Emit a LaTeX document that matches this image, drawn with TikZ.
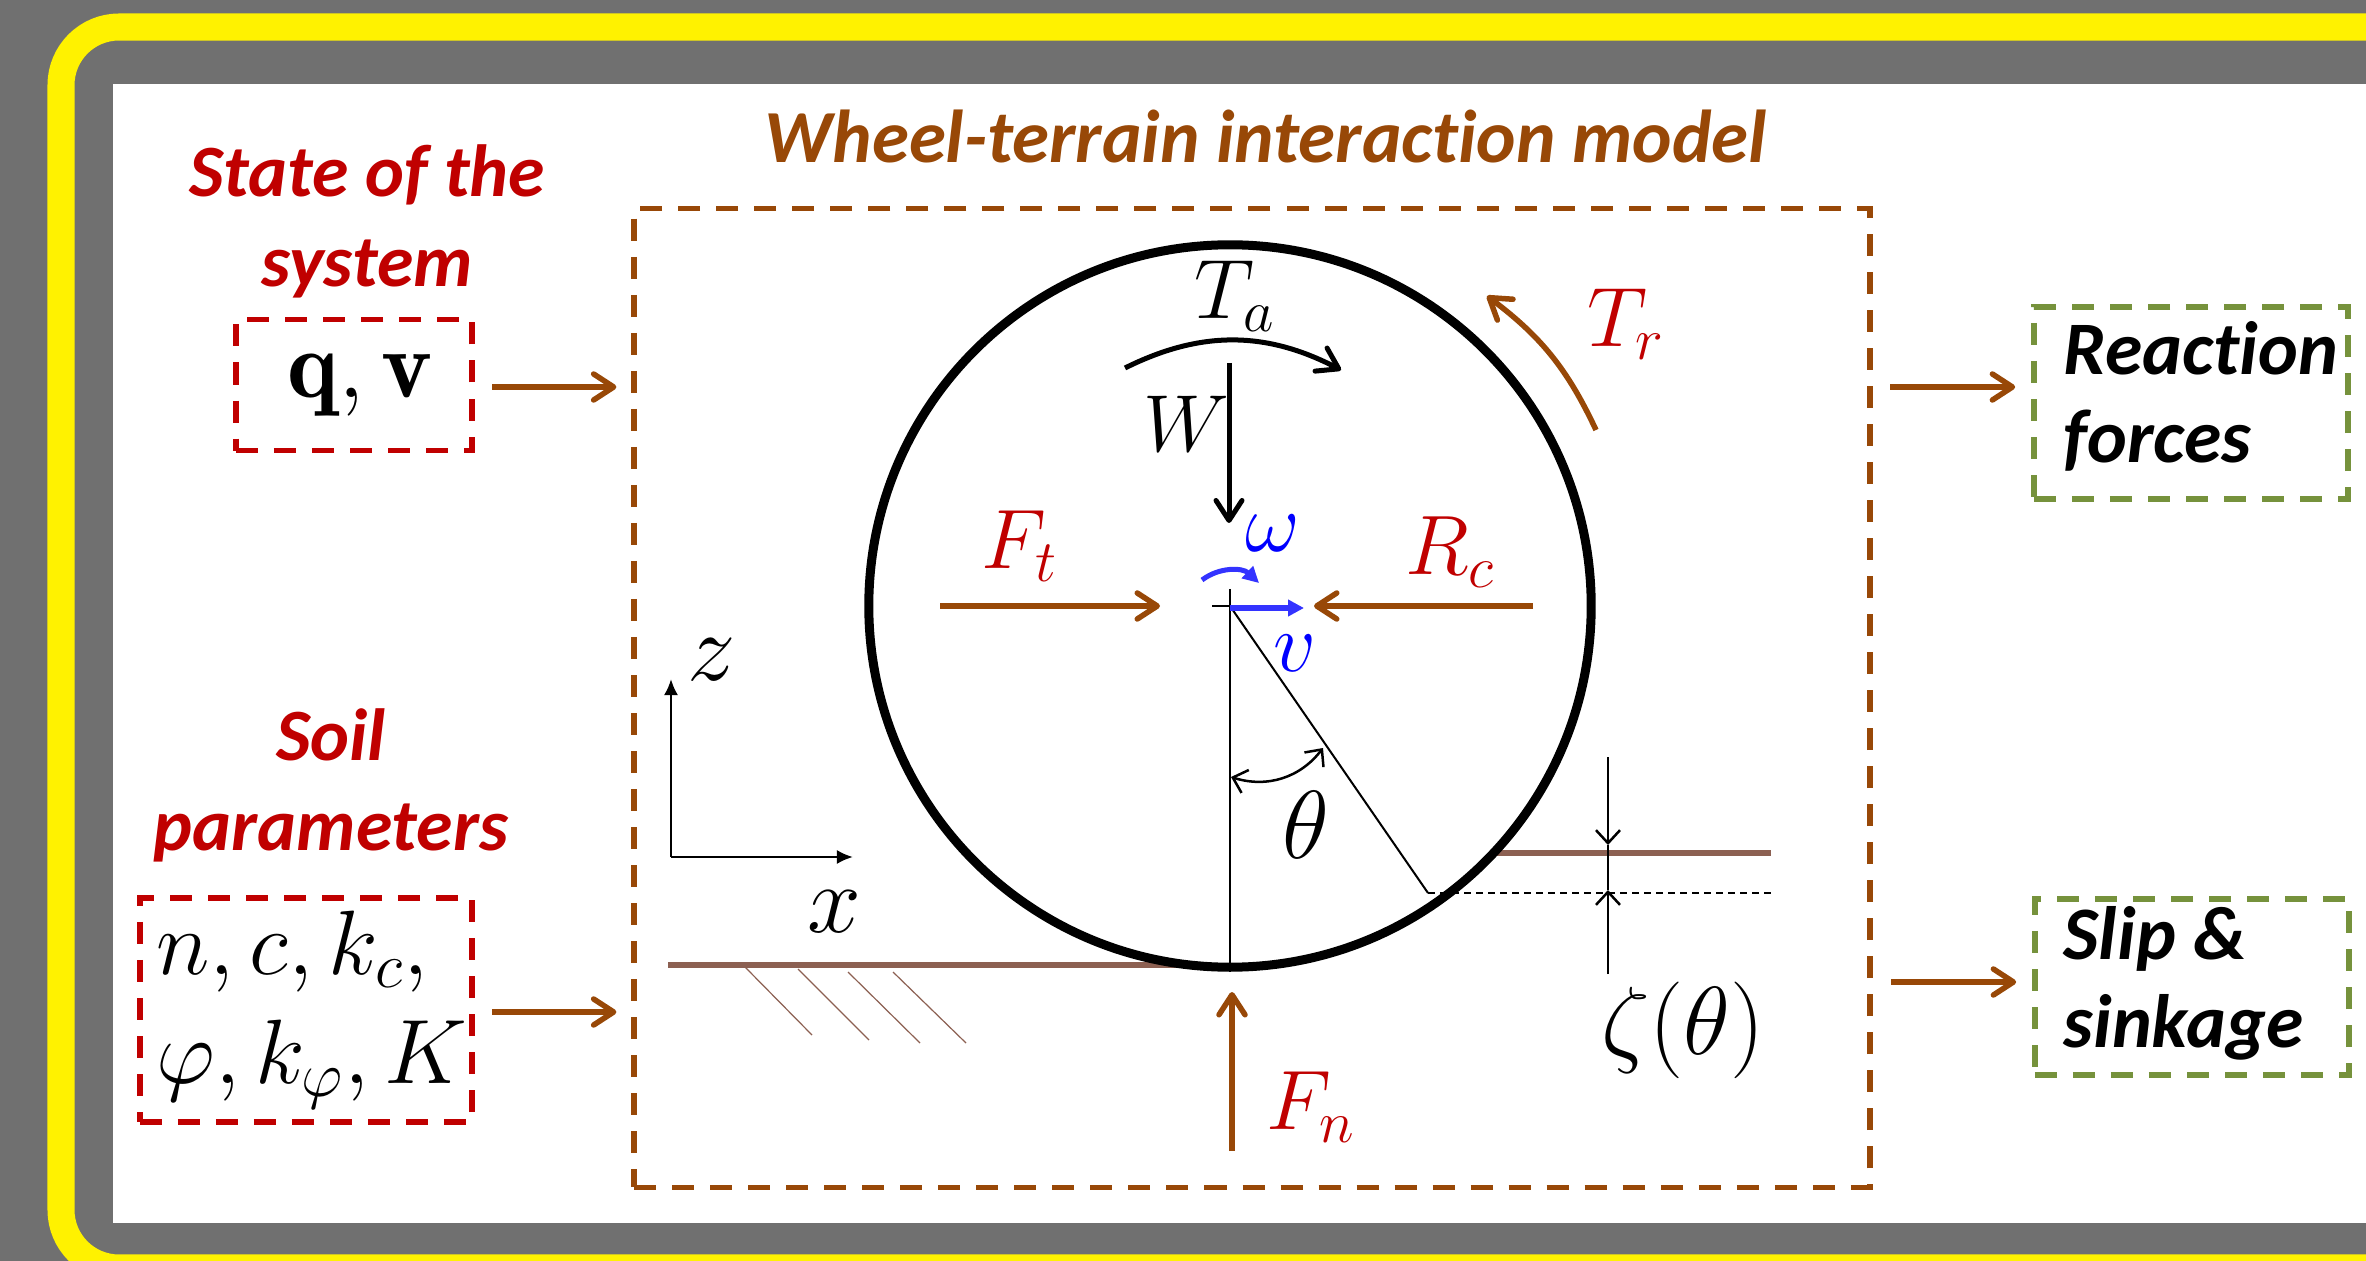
\documentclass[tikz,border=0pt]{standalone}
\usepackage{fix-cm}
\usepackage{amsmath}
\usepackage{amssymb}
\usepackage{fontspec}
\usepackage{tikz}
\usetikzlibrary{arrows.meta,calc}
\newfontfamily\carlito[Ligatures=NoCommon]{Carlito}
\definecolor{framegray}{HTML}{707070}
\definecolor{redtext}{HTML}{C00000}
\definecolor{brownline}{HTML}{984807}
\definecolor{greenline}{HTML}{76923C}
\definecolor{soil}{HTML}{8C6052}
\definecolor{bluearrow}{HTML}{3333FF}

\begin{document}
\begin{tikzpicture}[
        x=0.01cm, y=-0.01cm,
        dashbox/.style={
            draw,
            line width=0.055cm,
            dash pattern=on 0.22cm off 0.16cm,
            inner sep=0pt
        },
        inbox/.style={
            dashbox,
            draw=redtext,
            align=left
        },
        outbox/.style={
            dashbox,
            draw=greenline
        },
        outtext/.style={
            anchor=west,
            inner sep=0pt,
            align=left,
            font=\fontsize{21.5}{25}\selectfont\carlito\bfseries\itshape
        },
        heading/.style={
            text=redtext,
            align=center,
            inner sep=0pt,
            font=\fontsize{21}{25.6}\selectfont\carlito\bfseries\itshape
        },
        mathlabel/.style={
            inner sep=0pt,
            font=\fontsize{24}{28}\selectfont
        },
        biglabel/.style={
            inner sep=0pt,
            font=\fontsize{27.5}{32}\selectfont
        },
        forcelabel/.style={mathlabel, text=redtext},
        speedlabel/.style={mathlabel, text=blue},
        arrow/.style={
            -{Straight Barb[length=0.2cm, width=0.26cm, round]},
            line width=0.055cm,
            draw=brownline
        },
        blackarrow/.style={
            -{Straight Barb[length=0.2cm, width=0.26cm, round]},
            line width=0.05cm
        },
        thinarrow/.style={
            -{Straight Barb[length=0.13cm, width=0.24cm]},
            line width=0.025cm
        },
        axis/.style={-{Latex[length=0.16cm, width=0.14cm]}, line width=0.025cm},
        ground/.style={draw=soil, line width=0.06cm},
        hatch/.style={draw=soil, line width=0.012cm},
        bluetip/.style={
            -{Triangle[length=0.16cm, width=0.16cm]},
            draw=bluearrow
        }
    ]

    % background and frame
    \clip (0,0) rectangle (2366,1261);
    \fill[framegray] (0,0) rectangle (2366,1261);
    \draw[yellow, line width=0.27cm, rounded corners=0.58cm] (61,27) rectangle (2600,1268);
    \fill[white] (113,84) rectangle (2400,1223);

    % inputs and outputs
    \node[heading] (statelabel) at (367,221) {State of the\\system};
    \node[inbox, font=\fontsize{27.5}{32}\selectfont, minimum width=2.36cm, minimum height=1.31cm] (statebox) at (354,385) {\hspace*{0.12cm}$\mathbf{q},\mathbf{v}$};
    \node[heading] (soillabel) at (331,785) {Soil\\parameters};
    \node[inbox, font=\fontsize{26}{31}\selectfont, minimum width=3.32cm, minimum height=2.24cm] (soilbox) at (306,1010) {\hspace*{0.12cm}$n,c,k_c,$\\\hspace*{0.12cm}$\varphi,k_\varphi,K$};
    \node[outbox, minimum width=3.14cm, minimum height=1.92cm] (reaction) at (2191,403) {};
    \node[outtext] (reactiontext) at (2063,396) {Reaction\\forces};
    \node[outbox, minimum width=3.14cm, minimum height=1.76cm] (slip) at (2192,987) {};
    \node[outtext] (sliptext) at (2063,983) {Slip \&\\sinkage};

    % model box
    \node[heading, text=brownline, font=\fontsize{21.3}{26}\selectfont\carlito\bfseries\itshape] (title) at (1266,137) {Wheel-terrain interaction model};
    \node[dashbox, draw=brownline, minimum width=12.35cm, minimum height=9.78cm] (model) at (1252,698) {};

    % ground
    \coordinate (groundl) at (668,965);
    \coordinate (groundm) at (1190,965);
    \coordinate (groundr) at (1494,853);
    \coordinate (groundend) at (1771,853);
    \coordinate (sink) at (1428,893);
    \coordinate (sinkend) at (1771,893);
    \draw[ground] (groundl) -- (groundm);
    \draw[ground] (groundr) -- (groundend);
    \draw[hatch] (745,967) -- (812,1035);
    \draw[hatch] (798,969) -- (869,1040);
    \draw[hatch] (848,972) -- (920,1043);
    \draw[hatch] (893,972) -- (966,1043);

    % wheel
    \coordinate (hub) at (1230,606);
    \node[draw, circle, line width=0.09cm, minimum size=7.22cm, inner sep=0pt] (wheel) at (hub) {};
    \draw[line width=0.02cm] (1212,606) -- (hub);
    \draw[line width=0.02cm] (1230,589) -- (wheel.south);
    \draw[line width=0.02cm] (hub) -- (sink);
    \draw[line width=0.018cm, dash pattern=on 0.07cm off 0.05cm] (sink) -- (sinkend);

    % axes
    \coordinate (origin) at (671,857);
    \coordinate (ztip) at (671,679);
    \coordinate (xtip) at (853,857);
    \draw[axis] (origin) -- (ztip);
    \draw[axis] (origin) -- (xtip);
    \node[biglabel] (zlabel) at (712,660) {$z$};
    \node[biglabel] (xlabel) at (834,912) {$x$};

    % torques
    \coordinate (tastart) at (1125,368);
    \coordinate (taend) at (1341,370);
    \coordinate (trstart) at (1596,430);
    \coordinate (trend) at (1487,296);
    \draw[blackarrow] (tastart) to[bend left=27] (taend);
    \draw[arrow] (trstart) to[bend right=14] (trend);
    \node[mathlabel] (talabel) at (1235,296) {$T_a$};
    \node[forcelabel] (trlabel) at (1626,324) {$T_r$};

    % forces
    \coordinate (wstart) at (1229,363);
    \coordinate (wend) at (1229,523);
    \coordinate (ftstart) at (940,606);
    \coordinate (ftend) at (1160,606);
    \coordinate (rcstart) at (1533,606);
    \coordinate (rcend) at (1314,606);
    \coordinate (fnstart) at (1232,1151);
    \coordinate (fnend) at (1232,992);
    \draw[blackarrow] (wstart) -- (wend);
    \draw[arrow] (ftstart) -- (ftend);
    \draw[arrow] (rcstart) -- (rcend);
    \draw[arrow] (fnstart) -- (fnend);
    \node[mathlabel, font=\fontsize{23}{27}\selectfont] (wlabel) at (1186,424) {$W$};
    \node[forcelabel] (ftlabel) at (1020,546) {$F_t$};
    \node[forcelabel] (rclabel) at (1450,552) {$R_c$};
    \node[forcelabel] (fnlabel) at (1311,1107) {$F_n$};

    % speeds
    \coordinate (omstart) at (1202,580);
    \coordinate (omend) at (1259,583);
    \coordinate (vstart) at (1230,608);
    \coordinate (vend) at (1304,608);
    \draw[bluetip, line width=0.05cm] (omstart) to[bend left=40] (omend);
    \draw[bluetip, line width=0.06cm] (vstart) -- (vend);
    \node[speedlabel] (omlabel) at (1273,533) {$\omega$};
    \node[speedlabel] (vlabel) at (1295,653) {$v$};

    % angle and sinkage
    \coordinate (anga) at (1231,777);
    \coordinate (angb) at (1323,748);
    \coordinate (zetaa) at (1608,757);
    \coordinate (zetab) at (1608,845);
    \coordinate (zetac) at (1608,974);
    \coordinate (zetad) at (1608,890);
    \draw[thinarrow, {Straight Barb[length=0.13cm, width=0.24cm]}-{Straight Barb[length=0.13cm, width=0.24cm]}] (anga) to[bend right=35] (angb);
    \draw[thinarrow] (zetaa) -- (zetab);
    \draw[thinarrow] (zetac) -- (zetad);
    \draw[line width=0.012cm] (zetab) -- (zetad);
    \node[biglabel] (thetalabel) at (1306,825) {$\theta$};
    \node[biglabel] (zetalabel) at (1683,1030) {$\zeta(\theta)$};

    % connectors
    \coordinate (statein) at (492,387);
    \coordinate (soilin) at (492,1012);
    \coordinate (reactout) at (1890,387);
    \coordinate (slipout) at (1891,982);
    \draw[arrow] (statein) -- ($(statein -| model.west)+(-15,0)$);
    \draw[arrow] (soilin) -- ($(soilin -| model.west)+(-15,0)$);
    \draw[arrow] (reactout) -- ($(reactout -| reaction.west)+(-16,0)$);
    \draw[arrow] (slipout) -- ($(slipout -| slip.west)+(-16,0)$);

\end{tikzpicture}
\end{document}
